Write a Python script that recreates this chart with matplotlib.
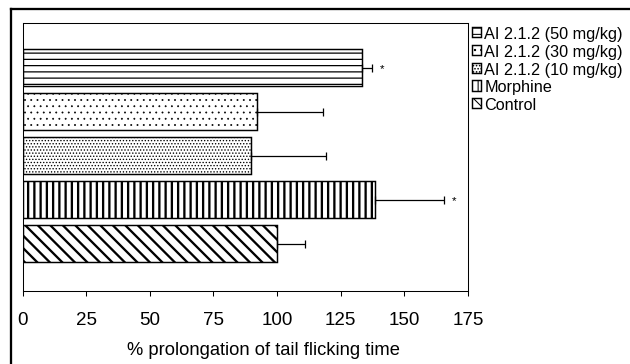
import matplotlib
matplotlib.use("Agg")
import matplotlib.pyplot as plt
from matplotlib.lines import Line2D

# ---- data ----
categories = ["Control", "Morphine", "AI 2.1.2 (10 mg/kg)",
              "AI 2.1.2 (30 mg/kg)", "AI 2.1.2 (50 mg/kg)"]
values = [100.0, 138.5, 89.6, 92.0, 133.2]
errors = [11.0, 27.0, 29.6, 26.1, 4.0]
significant = [False, True, False, False, True]
xticks = [0, 25, 50, 75, 100, 125, 150, 175]
xlabel = "% prolongation of tail flicking time"

# ---- style ----
hatches = ["\\\\", "||", "....", "..", "--"]
hatch_lw = [2.2, 2.2, 0.8, 0.6, 1.2]

plt.rcParams['font.family'] = ['Liberation Sans', 'DejaVu Sans']

fig = plt.figure(figsize=(8.4, 365 / 75), dpi=75)
fig.patch.set_facecolor("white")
ax = fig.add_axes([22.5 / 630, 1 - 292 / 365, (468 - 22.5) / 630, (292 - 24) / 365])

ypos = list(range(len(categories)))
bars = []
for i, (y, v, e) in enumerate(zip(ypos, values, errors)):
    with plt.rc_context({'hatch.linewidth': hatch_lw[i]}):
        b = ax.barh(y, v, height=0.84, color="white", edgecolor="black",
                    linewidth=1.4, hatch=hatches[i], label=categories[i],
                    xerr=[[0], [e]], error_kw=dict(ecolor="black", elinewidth=1.2,
                                                   capsize=4, capthick=1.2))
    for p in b.patches:
        if hasattr(p, "set_hatch_linewidth"):
            p.set_hatch_linewidth(hatch_lw[i])
    bars.append(b)
    if significant[i]:
        ax.text(v + e + 4, y, "*", ha="center", va="center", fontsize=11)

ax.set_xlim(0, 175)
ax.set_ylim(-1.07, 5.02)
ax.set_xticks(xticks)
ax.set_xticklabels([str(t) for t in xticks])
ax.set_yticks([])
ax.tick_params(axis="x", direction="out", length=5, width=1, pad=14, labelsize=18)
for s in ax.spines.values():
    s.set_linewidth(1.0)
ax.set_xlabel(xlabel, fontsize=17.7)
ax.xaxis.set_label_coords(0.54, -0.185)
ax.xaxis.label.set_va("top")

handles = bars[::-1]
labels = categories[::-1]
leg = fig.legend(handles, labels, loc="upper left",
                 bbox_to_anchor=(472 / 630, 1 - 27 / 365),
                 frameon=False, fontsize=15.6, handlelength=0.55, handleheight=0.6,
                 handletextpad=0.2, labelspacing=0.17, borderpad=0.0,
                 borderaxespad=0.0)

# outer frame (top and left edges)
fig.add_artist(Line2D([11 / 630, 1.0], [1 - 10 / 365, 1 - 10 / 365],
                      color="black", linewidth=2.2, transform=fig.transFigure))
fig.add_artist(Line2D([11 / 630, 11 / 630], [0.0, 1 - 10 / 365],
                      color="black", linewidth=2.2, transform=fig.transFigure))

fig.savefig("out.png", dpi=75)
